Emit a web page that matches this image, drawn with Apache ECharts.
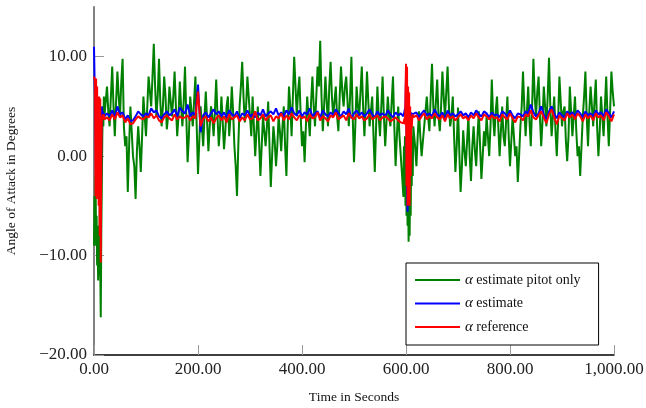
<!DOCTYPE html>
<html><head><meta charset="utf-8">
<script src="https://cdn.jsdelivr.net/npm/echarts@6/dist/echarts.min.js"></script>
<style>html,body{margin:0;padding:0;background:#fff}#c{width:646px;height:408px}</style>
</head><body><div id="c"></div>
<script>
// Sampling segments: [start time, step]
const greenSeg = [[0,1],[25,2.5],[596,1],[615,2.5]];
const estSeg = [[0,1],[25,5],[596,1],[615,5]];
const yTicks = [-20,-10,0,10];
const xTicks = [0,200,400,600,800,1000];
const seriesNames = ['estimate pitot only','estimate','reference'];

const greenA = [-9,-4,-8,-2,-9,-6,-11,-9,-12.5,-7,-12,-5,-11,-16.2,-8,-3,2,5,3,6,4];
const greenB = [7,4.5,3,6,9,5,2,5.5,8.5,6,4,7.5,9.8,3,1,2,-3.6,1,5,2.5,
 0,-1,-4.3,0.5,3,1,-1.6,2,6,4,2,5,8,6.5,5,8,11.3,7,4,6,
 9.8,5.5,3,5,8,6,2.7,4,7,5.5,4,6,8.5,5,2,4,7.5,5,3,5.5,
 9,4,-0.6,2,6,4.5,3,5.5,8,3,-1.8,1.5,5,3,1,4,6.5,3.5,0.5,3,
 5,4,2,4.5,7.7,4,1,3,6,3.5,0.7,2.5,5,6,2,4,7,4.5,1,-1,
 -4,1,5,7,9.5,6,3.4,5,8,6,4,2,6,3,0,2.5,5,1.5,-2,1,
 4,2.5,1,3,5.5,1,-3.1,0,3,1.5,-1,1,4,2.5,0.5,3,5,1,-2,3,
 7,5,2,6,10,7,4,6.5,8,4,1,2.5,-0.6,3,6,4,2,5.5,8,5,
 3,6,9,7,11.6,6,2.5,5,8,5.5,3,7,9.5,6,4,5.5,7,4,2.5,6,
 9,6.5,5,7,8,5.5,3,6,10,4,-0.6,3,7,5,4,6.5,9,5,2,5,
 8.5,5.5,3,4.5,6,2,-1.6,3,7,4,2,5,8,4,1,3.5,6,4,3,5.5,
 8,3,-1,2,5,2,0,-2,-4.1];
const greenC = [1,-3,2,-5,0,-6,-2,-7,-3,-8.6,-4,-8,-2,-6,0,-3,2,-2,3];
const greenD = [3,1,-1,2,4.5,2,0,1.5,3,4.5,6,4,2.5,6,9.3,5,3,5.5,7.7,4,
 2.5,5,8.5,6,4,6.5,9,5,3,4,6,2,-1.6,1,4.9,0.5,-3.6,-1,2.6,0.5,
 -1,1.5,4,0,-2.5,1,3,0.5,-1,2,4.5,1,-2.3,0,2.5,1,4,2,0,3,
 7.7,4,2,4.5,6,3,0,2.5,5,2,1,3.5,6,2,-1,1.5,4,2,0,1,
 -2.6,0,3,5,8.5,5,2,4.5,7,3.5,1,5,9.8,6,4,6.5,8,4,1,3.5,
 7,5,3,6,9.9,5,2,4,6,2.5,0,3.5,8,5.5,3,4.5,5,1.5,-0.5,2,
 7,4.5,2,4,6,2.5,0,1,-2,1,4,6,8.5,4,1,4.5,7,5,3,5.5,
 7.7,3,0,2.5,6,4,2,5,8,4,1,4.5,8.5,6.5,5];

const blueA = [11,8,6,2,-3,4,-4,3,-2,5,0,4,-3,-8,2,5,4,4.5,4,4.3,4];
const blueB = [4.3,4.0,4.6,3.9,5.0,4.2,4.4,3.7,4.1,3.5,
 3.6,4.0,4.5,4.2,4.0,4.3,4.1,4.8,4.4,4.6,
 4.0,3.8,4.2,4.5,4.1,4.3,4.7,4.0,4.9,4.5,
 4.3,5.2,4.0,4.4,4.1,7.2,2.4,4.1,4.4,3.9,
 4.3,4.7,4.2,4.5,4.0,4.4,3.9,4.6,4.2,4.0,
 4.5,3.8,4.3,4.1,4.6,4.0,4.2,3.9,4.4,4.1,
 4.7,4.0,4.3,4.5,4.2,4.8,4.1,4.4,4.0,4.6,
 4.2,4.9,4.3,4.1,4.6,4.0,4.4,4.2,4.8,4.0,
 4.3,4.5,3.9,4.6,4.2,4.0,4.4,4.1,4.7,4.3,
 4.0,4.5,4.2,4.8,3.8,4.3,4.6,4.1,4.4,4.0,
 4.3,4.7,4.2,3.9,4.5,4.1,4.3,4.0,4.6,4.2,
 3.9,4.4,4.1,4.3,4.0];
const blueC = [4,4.2,3.8,5,8,2,-3,-5.6,2,-4,5,-2,4,3.5,4.4,3.8,4.2,4,4.3];
const blueD = [4.0,4.4,3.9,4.3,4.6,4.1,4.3,4.0,4.7,4.2,
 4.0,4.4,3.7,4.6,4.1,4.3,4.0,4.2,4.5,4.1,
 4.3,3.9,4.4,4.1,4.6,4.2,4.0,4.5,4.3,3.9,
 4.4,4.1,4.2,3.9,4.5,4.3,4.0,4.6,4.1,3.8,
 4.3,4.2,4.0,4.5,4.3,5.2,4.4,4.0,4.3,5.0,
 4.2,3.6,4.5,5.0,4.3,3.8,4.4,4.1,3.9,4.5,
 4.2,4.4,4.0,4.6,4.3,3.9,4.5,4.1,4.3,4.0,
 4.6,4.2,4.4,4.0,4.7,4.3,3.9,4.5];

const redA = [8,8,7.5,-4,7.8,-4.3,7,-2,6,-5,6,-8,5.8,-10.7,0,4,3.6,4.2,3.8,4.2,3.7];
const redB = [3.9,3.6,4.2,3.7,4.4,3.9,4.1,3.4,3.8,3.2,
 3.3,3.7,4.0,3.8,3.7,4.0,3.9,4.3,3.8,4.1,
 3.6,3.4,3.9,4.1,3.8,3.6,4.2,3.7,4.0,3.8,
 3.9,4.1,3.6,4.0,3.8,6.5,3.0,3.8,4.0,3.5,
 3.9,3.3,3.8,4.1,3.6,4.0,3.4,4.2,3.7,3.9,
 4.1,3.5,3.9,3.6,4.2,3.7,3.8,4.5,3.6,3.8,
 4.2,3.6,3.9,4.1,3.5,4.0,3.8,4.3,3.6,4.1,
 3.7,4.3,3.9,3.6,4.1,3.8,4.0,3.5,4.2,3.8,
 3.9,4.4,3.6,4.0,3.8,3.5,4.1,3.9,4.4,3.7,
 3.9,4.1,3.6,4.3,3.9,3.7,4.2,3.8,4.0,3.6,
 3.8,4.2,3.7,3.9,4.1,3.6,3.9,4.0,3.8,3.5,
 3.7,3.9,3.6,3.4,3.3];
const redC = [3.5,3.8,3.2,6,9.3,-3,9,-5,7,-4.5,6.4,-5,5,-2,4,2.8,3.8,4.2,3.9];
const redD = [3.8,4.1,3.6,4.0,4.3,3.7,4.0,3.8,4.3,3.9,
 3.7,4.1,3.5,4.2,3.8,4.0,3.6,3.9,4.2,3.8,
 4.0,3.6,4.1,3.8,4.3,3.9,3.6,4.2,4.0,3.7,
 4.1,3.8,3.9,3.5,4.2,3.9,3.7,4.3,3.8,3.4,
 4.0,3.9,3.6,4.2,4.0,4.6,3.9,3.7,4.1,4.5,
 3.9,3.3,4.2,4.7,3.9,3.2,4.1,3.8,3.6,4.3,
 3.9,4.2,3.7,4.3,4.0,3.5,4.2,3.8,4.1,3.6,
 4.3,3.9,4.1,3.6,4.4,4.0,3.5,4.2];

function build(segs, parts){
  const out=[];
  parts.forEach((arr,k)=>{const [s,st]=segs[k];arr.forEach((v,i)=>out.push([s+i*st,v]));});
  return out;
}
const serif = 'Liberation Serif';
function fmt(v){const s=Math.abs(v).toFixed(2).replace(/\B(?=(\d{3})+(?!\d))/g, ',');return (v<0?'\u2212':'')+s;}

const chart = echarts.init(document.getElementById('c'), null, {renderer:'canvas'});
const mkLabel = n => '{a|α} ' + n;
chart.setOption({
  animation:false,
  backgroundColor:'#fff',
  grid:{left:94,right:32,top:7,bottom:53,containLabel:false,outerBoundsMode:'none'},
  legend:{
    orient:'vertical', left:406, top:263,
    padding:[9,18,10,9], itemGap:7.5, itemWidth:45, itemHeight:2, icon:'rect',
    borderColor:'#000', borderWidth:1, backgroundColor:'#fff',
    formatter: n => mkLabel(n),
    textStyle:{fontFamily:serif,fontSize:14,lineHeight:16,color:'#111',
      rich:{a:{fontFamily:serif,fontStyle:'italic',fontSize:15,lineHeight:16,color:'#111'}}},
    data:seriesNames
  },
  xAxis:{type:'value',min:0,max:1000,interval:200,
    name:'Time in Seconds',nameLocation:'middle',nameGap:35,
    nameTextStyle:{fontFamily:serif,fontSize:13.5,color:'#111'},
    axisLine:{show:true,onZero:false,lineStyle:{color:'#000',width:1.5}},
    axisTick:{show:true,inside:true,length:10,lineStyle:{color:'#999',width:1}},
    axisLabel:{fontFamily:serif,fontSize:17,color:'#222',margin:6,formatter:fmt},
    splitLine:{show:false}
  },
  yAxis:{type:'value',min:-20,max:15,interval:10,
    name:'Angle of Attack in Degrees',nameLocation:'middle',nameGap:76,nameRotate:90,
    nameTextStyle:{fontFamily:serif,fontSize:13.5,color:'#111'},
    axisLine:{show:true,onZero:false,lineStyle:{color:'#808080',width:2}},
    axisTick:{show:true,inside:true,length:10,lineStyle:{color:'#999',width:1},customValues:yTicks},
    axisLabel:{fontFamily:serif,fontSize:17,color:'#222',margin:7,formatter:fmt,customValues:yTicks},
    splitLine:{show:false}
  },
  series:[
    {name:seriesNames[0],type:'line',symbol:'none',data:build(greenSeg,[greenA,greenB,greenC,greenD]),
      lineStyle:{color:'#008000',width:2},itemStyle:{color:'#008000'},z:2},
    {name:seriesNames[1],type:'line',symbol:'none',data:build(estSeg,[blueA,blueB,blueC,blueD]),
      lineStyle:{color:'#0000ff',width:2},itemStyle:{color:'#0000ff'},z:3},
    {name:seriesNames[2],type:'line',symbol:'none',data:build(estSeg,[redA,redB,redC,redD]),
      lineStyle:{color:'#ff0000',width:2},itemStyle:{color:'#ff0000'},z:4}
  ]
});
</script></body></html>
